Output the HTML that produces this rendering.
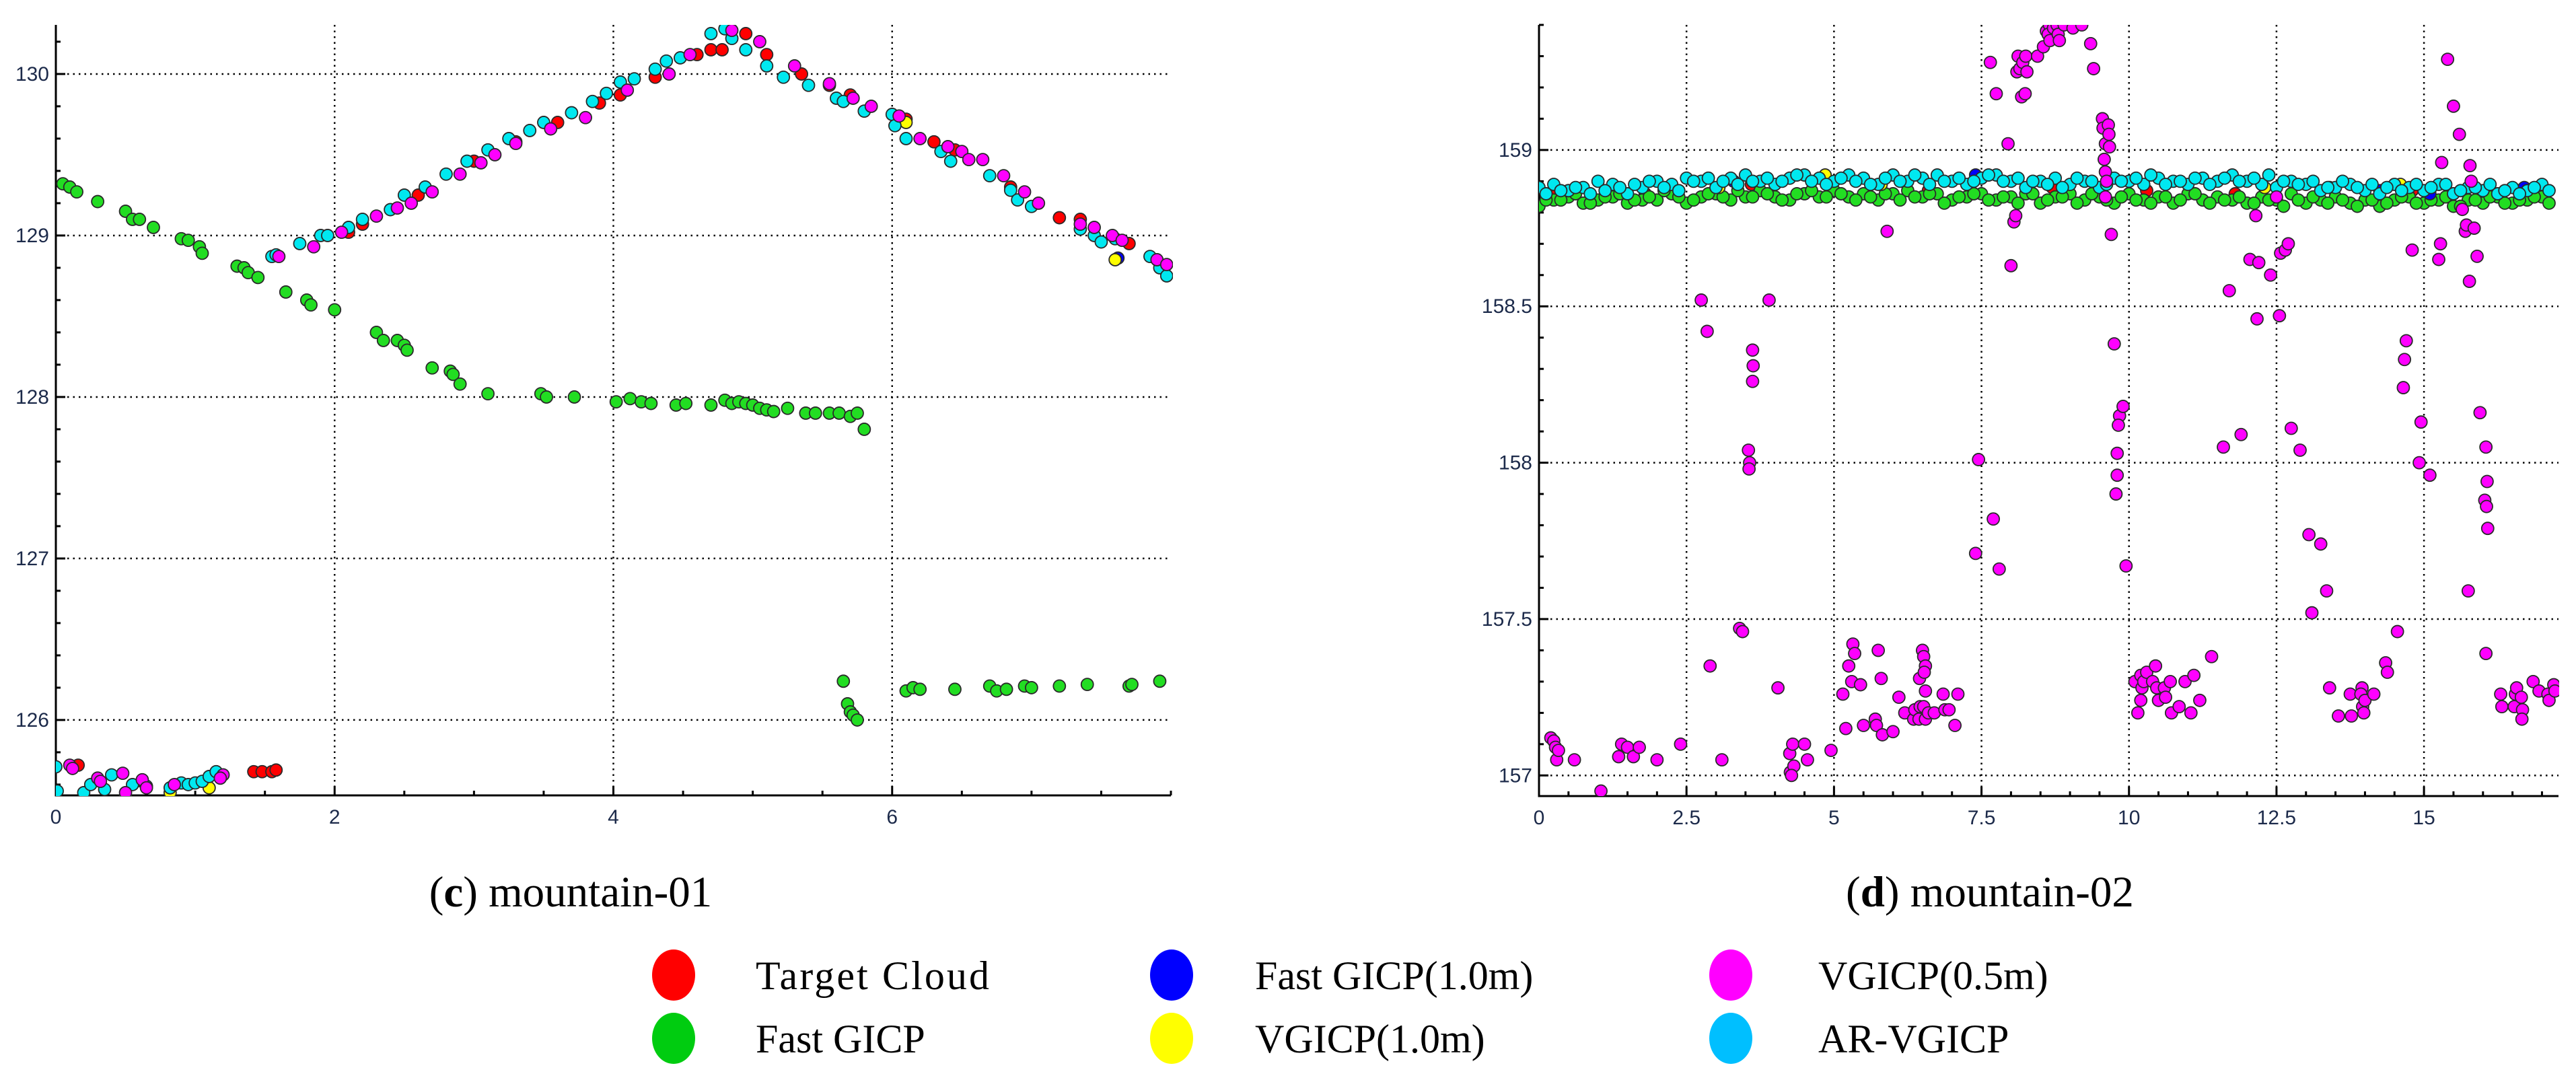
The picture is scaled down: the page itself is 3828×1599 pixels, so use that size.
<!DOCTYPE html>
<html><head><meta charset="utf-8"><style>
html,body{margin:0;padding:0;background:#fff;}
svg{display:block;}
.tick{font-family:"Liberation Sans",sans-serif;font-size:30px;fill:#1c2a4a;}
.cap{font-family:"Liberation Serif",serif;font-size:65px;fill:#000;}
.leg{font-family:"Liberation Serif",serif;font-size:60px;fill:#000;}
</style></head><body>
<svg id="fig" width="3828" height="1599" viewBox="0 0 3828 1599" xmlns="http://www.w3.org/2000/svg">
<g id="chartC"></g>
<g id="chartD"></g>
<text class="cap" x="848" y="1347" text-anchor="middle">(<tspan font-weight="bold">c</tspan>) mountain-01</text>
<text class="cap" x="2957" y="1347" text-anchor="middle">(<tspan font-weight="bold">d</tspan>) mountain-02</text>
<g id="legend">
 <g><ellipse cx="1001" cy="1449" rx="32" ry="38" fill="#ff0000"/><text class="leg" x="1123" y="1470" textLength="347">Target Cloud</text></g>
 <g><ellipse cx="1001" cy="1543" rx="32" ry="38" fill="#00cc10"/><text class="leg" x="1123" y="1564">Fast GICP</text></g>
 <g><ellipse cx="1741" cy="1449" rx="32" ry="38" fill="#0000ff"/><text class="leg" x="1865" y="1470">Fast GICP(1.0m)</text></g>
 <g><ellipse cx="1741" cy="1543" rx="32" ry="38" fill="#ffff00"/><text class="leg" x="1865" y="1564">VGICP(1.0m)</text></g>
 <g><ellipse cx="2572" cy="1449" rx="32" ry="38" fill="#ff00ff"/><text class="leg" x="2702" y="1470">VGICP(0.5m)</text></g>
 <g><ellipse cx="2572" cy="1543" rx="32" ry="38" fill="#00bfff"/><text class="leg" x="2702" y="1564">AR-VGICP</text></g>
</g>
</svg>
<script>
// ---------- chart (c) mountain-01 data ----------
const cXTicks = [0, 2, 4, 6];
const cYTicks = [126, 127, 128, 129, 130];
const cTarget = [[2.1,129.02],[2.2,129.07],[2.6,129.25],[3.0,129.46],[3.3,129.58],[3.6,129.7],[3.9,129.82],[4.05,129.87],[4.3,129.98],[4.6,130.12],[4.7,130.15],[4.78,130.15],[4.95,130.25],[5.1,130.12],[5.35,130.0],[5.55,129.93],[5.7,129.87],[6.1,129.72],[6.3,129.58],[6.45,129.53],[6.85,129.3],[7.2,129.11],[7.35,129.1],[7.7,128.95],[1.42,125.68],[1.48,125.68],[1.55,125.68],[1.58,125.69],[0.62,125.62],[0.16,125.72]];
const cFast = [[0.05,129.32],[0.1,129.3],[0.15,129.27],[0.3,129.21],[0.5,129.15],[0.55,129.1],[0.6,129.1],[0.7,129.05],[0.9,128.98],[0.95,128.97],[1.03,128.93],[1.05,128.89],[1.3,128.81],[1.35,128.8],[1.38,128.77],[1.45,128.74],[1.65,128.65],[1.8,128.6],[1.83,128.57],[2.0,128.54],[2.3,128.4],[2.35,128.35],[2.45,128.35],[2.5,128.32],[2.52,128.29],[2.7,128.18],[2.83,128.16],[2.85,128.14],[2.9,128.08],[3.1,128.02],[3.48,128.02],[3.52,128.0],[3.72,128.0],[4.02,127.97],[4.12,127.99],[4.2,127.97],[4.27,127.96],[4.45,127.95],[4.52,127.96],[4.7,127.95],[4.8,127.98],[4.85,127.96],[4.9,127.97],[4.95,127.96],[5.0,127.95],[5.05,127.93],[5.1,127.92],[5.15,127.91],[5.25,127.93],[5.38,127.9],[5.45,127.9],[5.55,127.9],[5.62,127.9],[5.7,127.88],[5.75,127.9],[5.8,127.8],[5.65,126.24],[5.68,126.1],[5.7,126.05],[5.72,126.03],[5.75,126.0],[6.1,126.18],[6.15,126.2],[6.2,126.19],[6.45,126.19],[6.7,126.21],[6.75,126.18],[6.82,126.19],[6.95,126.21],[7.0,126.2],[7.2,126.21],[7.4,126.22],[7.7,126.21],[7.72,126.22],[7.92,126.24]];
const cVg05 = [[1.6,128.87],[1.85,128.93],[2.05,129.02],[2.3,129.12],[2.45,129.17],[2.55,129.2],[2.7,129.27],[2.9,129.38],[3.05,129.45],[3.15,129.5],[3.3,129.57],[3.55,129.66],[3.8,129.73],[4.1,129.9],[4.4,130.0],[4.55,130.12],[4.85,130.27],[5.05,130.2],[5.3,130.05],[5.55,129.94],[5.72,129.85],[5.85,129.8],[6.05,129.74],[6.2,129.6],[6.4,129.55],[6.5,129.52],[6.55,129.47],[6.65,129.47],[6.8,129.37],[6.95,129.27],[7.05,129.2],[7.35,129.07],[7.45,129.05],[7.58,129.0],[7.65,128.97],[7.9,128.85],[7.97,128.82],[0.1,125.72],[0.12,125.7],[0.3,125.64],[0.32,125.62],[0.48,125.67],[0.5,125.55],[0.62,125.63],[0.65,125.58],[0.85,125.6],[1.2,125.66],[1.18,125.64]];
const cAr = [[1.55,128.87],[1.58,128.88],[1.75,128.95],[1.9,129.0],[1.95,129.0],[2.1,129.05],[2.2,129.1],[2.4,129.16],[2.5,129.25],[2.65,129.3],[2.8,129.38],[2.95,129.46],[3.1,129.53],[3.25,129.6],[3.4,129.65],[3.5,129.7],[3.7,129.76],[3.85,129.83],[3.95,129.88],[4.05,129.95],[4.15,129.97],[4.3,130.03],[4.38,130.08],[4.48,130.1],[4.7,130.25],[4.8,130.28],[4.85,130.22],[4.95,130.15],[5.1,130.05],[5.22,129.98],[5.4,129.93],[5.6,129.85],[5.65,129.83],[5.8,129.77],[6.0,129.75],[6.02,129.68],[6.1,129.6],[6.35,129.52],[6.42,129.46],[6.7,129.37],[6.85,129.28],[6.9,129.22],[7.0,129.18],[7.35,129.04],[7.45,129.0],[7.5,128.96],[7.6,128.98],[7.85,128.87],[7.92,128.8],[7.97,128.75],[0.0,125.71],[0.01,125.56],[0.2,125.55],[0.25,125.6],[0.35,125.57],[0.4,125.66],[0.5,125.53],[0.55,125.6],[0.65,125.59],[0.82,125.58],[0.9,125.61],[0.95,125.6],[1.0,125.61],[1.05,125.62],[1.1,125.65],[1.15,125.68]];
const cYellow = [[0.82,125.55],[1.1,125.58],[6.1,129.7],[7.6,128.85]];
const cBlue = [[7.62,128.86]];

// ---------- chart (d) mountain-02 data ----------
const dXTicks = [0, 2.5, 5, 7.5, 10, 12.5, 15];
const dXTickLabels = ["0", "2.5", "5", "7.5", "10", "12.5", "15"];
const dYTicks = [157, 157.5, 158, 158.5, 159];
const dYTickLabels = ["157", "157.5", "158", "158.5", "159"];
const dBandX = [0,0.25,0.5,0.75,1,1.25,1.5,1.75,2,2.25,2.5,2.75,3,3.25,3.5,3.75,4,4.25,4.5,4.75,5,5.25,5.5,5.75,6,6.25,6.5,6.75,7,7.25,7.5,7.75,8,8.25,8.5,8.75,9,9.25,9.5,9.75,10,10.25,10.5,10.75,11,11.25,11.5,11.75,12,12.25,12.5,12.75,13,13.25,13.5,13.75,14,14.25,14.5,14.75,15,15.25,15.5,15.75,16,16.25,16.5,16.75,17];
const dArY = [158.88,158.89,158.87,158.88,158.9,158.89,158.86,158.88,158.9,158.89,158.91,158.9,158.88,158.91,158.92,158.9,158.89,158.91,158.92,158.91,158.9,158.92,158.91,158.89,158.92,158.9,158.91,158.92,158.9,158.89,158.91,158.92,158.9,158.88,158.9,158.91,158.89,158.9,158.88,158.91,158.9,158.89,158.91,158.9,158.89,158.91,158.9,158.92,158.9,158.89,158.88,158.9,158.89,158.87,158.88,158.89,158.87,158.86,158.89,158.88,158.87,158.89,158.86,158.88,158.87,158.86,158.88,158.87,158.89];
const dArY2 = [158.86,158.87,158.88,158.86,158.87,158.88,158.89,158.9,158.88,158.87,158.9,158.91,158.9,158.89,158.9,158.91,158.9,158.92,158.9,158.89,158.91,158.9,158.89,158.91,158.9,158.92,158.89,158.9,158.91,158.9,158.92,158.9,158.91,158.9,158.89,158.88,158.91,158.9,158.89,158.9,158.91,158.92,158.89,158.9,158.91,158.89,158.91,158.9,158.91,158.92,158.9,158.89,158.9,158.88,158.9,158.88,158.89,158.88,158.87,158.89,158.88,158.89,158.87,158.88,158.89,158.87,158.86,158.88,158.87];
const dFastY = [158.82,158.84,158.85,158.83,158.84,158.85,158.83,158.84,158.84,158.86,158.83,158.85,158.86,158.84,158.85,158.87,158.85,158.84,158.86,158.85,158.87,158.85,158.86,158.84,158.86,158.87,158.85,158.86,158.84,158.85,158.86,158.84,158.85,158.86,158.83,158.85,158.86,158.84,158.85,158.83,158.86,158.84,158.85,158.83,158.86,158.84,158.85,158.84,158.83,158.85,158.84,158.86,158.83,158.84,158.85,158.83,158.84,158.82,158.84,158.85,158.83,158.84,158.82,158.84,158.83,158.85,158.83,158.84,158.85];
const dTarget = [[0.3,158.86],[1.8,158.86],[3.6,158.89],[6.6,158.87],[8.7,158.88],[10.3,158.87],[11.8,158.86],[13.4,158.88],[14.8,158.87],[16.6,158.87]];
const dYellow = [[0.5,158.87],[3.05,158.88],[4.85,158.92],[5.8,158.89],[7.5,158.91],[12.3,158.88],[14.6,158.89]];
const dBlue = [[3.3,158.9],[7.4,158.92],[14.25,158.87],[15.1,158.86],[16.7,158.88]];
const dVg05 = [[0.2,157.12],[0.25,157.11],[0.28,157.09],[0.3,157.05],[0.33,157.08],[0.6,157.05],[1.05,156.95],[1.35,157.06],[1.4,157.1],[1.5,157.09],[1.6,157.06],[1.7,157.09],[2.0,157.05],[2.4,157.1],[2.75,158.52],[2.85,158.42],[2.9,157.35],[3.1,157.05],[3.4,157.47],[3.45,157.46],[3.55,158.04],[3.57,158.0],[3.56,157.98],[3.62,158.36],[3.63,158.31],[3.62,158.26],[3.9,158.52],[4.05,157.28],[4.25,157.07],[4.26,157.01],[4.3,157.1],[4.32,157.03],[4.28,157.0],[4.5,157.1],[4.55,157.05],[4.95,157.08],[5.15,157.26],[5.2,157.15],[5.25,157.35],[5.3,157.3],[5.32,157.42],[5.35,157.39],[5.45,157.29],[5.5,157.16],[5.7,157.18],[5.72,157.16],[5.75,157.4],[5.8,157.31],[5.82,157.13],[5.9,158.74],[6.0,157.14],[6.1,157.25],[6.2,157.2],[6.35,157.18],[6.37,157.21],[6.45,157.31],[6.46,157.22],[6.44,157.18],[6.5,157.4],[6.52,157.38],[6.55,157.35],[6.53,157.33],[6.55,157.27],[6.52,157.22],[6.55,157.18],[6.6,157.2],[6.7,157.2],[6.85,157.26],[6.88,157.21],[6.95,157.21],[7.05,157.16],[7.1,157.26],[7.4,157.71],[7.45,158.01],[7.65,159.28],[7.7,157.82],[7.75,159.18],[7.8,157.66],[7.95,159.02],[8.0,158.63],[8.05,158.77],[8.08,158.79],[8.1,159.25],[8.12,159.3],[8.15,159.26],[8.2,159.28],[8.18,159.17],[8.25,159.3],[8.27,159.25],[8.24,159.18],[8.45,159.3],[8.55,159.33],[8.6,159.38],[8.65,159.4],[8.63,159.37],[8.66,159.35],[8.75,159.42],[8.72,159.39],[8.78,159.4],[8.8,159.37],[8.82,159.35],[8.9,159.4],[9.05,159.39],[9.2,159.4],[9.35,159.34],[9.4,159.26],[9.55,159.1],[9.56,159.07],[9.6,159.02],[9.58,158.97],[9.6,158.93],[9.62,158.9],[9.6,158.85],[9.65,159.08],[9.66,159.05],[9.67,159.01],[9.7,158.73],[9.75,158.38],[9.8,158.03],[9.8,157.96],[9.78,157.9],[9.84,158.15],[9.82,158.12],[9.9,158.18],[9.95,157.67],[10.1,157.3],[10.15,157.2],[10.2,157.32],[10.22,157.28],[10.2,157.24],[10.25,157.3],[10.3,157.33],[10.4,157.3],[10.45,157.35],[10.47,157.28],[10.5,157.24],[10.6,157.28],[10.62,157.25],[10.7,157.3],[10.72,157.2],[10.85,157.22],[10.95,157.3],[11.05,157.2],[11.1,157.32],[11.2,157.24],[11.4,157.38],[11.6,158.05],[11.7,158.55],[11.9,158.09],[12.05,158.65],[12.15,158.79],[12.17,158.46],[12.2,158.64],[12.4,158.6],[12.5,158.85],[12.55,158.47],[12.57,158.67],[12.65,158.68],[12.7,158.7],[12.75,158.11],[12.9,158.04],[13.05,157.77],[13.1,157.52],[13.25,157.74],[13.35,157.59],[13.4,157.28],[13.55,157.19],[13.75,157.26],[13.77,157.19],[13.95,157.28],[13.93,157.26],[13.96,157.22],[13.98,157.2],[14.0,157.24],[14.15,157.26],[14.35,157.36],[14.38,157.33],[14.55,157.46],[14.65,158.24],[14.67,158.33],[14.7,158.39],[14.8,158.68],[14.95,158.13],[14.92,158.0],[15.1,157.96],[15.25,158.65],[15.28,158.7],[15.3,158.96],[15.4,159.29],[15.5,159.14],[15.6,159.05],[15.65,158.81],[15.7,158.74],[15.72,158.76],[15.75,157.59],[15.77,158.58],[15.78,158.95],[15.8,158.9],[15.85,158.75],[15.9,158.66],[15.95,158.16],[16.05,158.05],[16.07,157.94],[16.03,157.88],[16.06,157.86],[16.08,157.79],[16.05,157.39],[16.3,157.26],[16.32,157.22],[16.55,157.26],[16.57,157.28],[16.53,157.22],[16.65,157.25],[16.67,157.21],[16.66,157.18],[16.85,157.3],[16.95,157.27],[17.1,157.26],[17.12,157.24],[17.2,157.29],[17.22,157.27]];

const NS = "http://www.w3.org/2000/svg";
function mk(tag, attrs, parent) {
  const e = document.createElementNS(NS, tag);
  for (const k in attrs) e.setAttribute(k, attrs[k]);
  parent.appendChild(e);
  return e;
}

function drawAxes(g, ax, xTicks, xLabels, yTicks, yLabels, xMinor, yMinor) {
  const sx = v => ax.left + (v - ax.xmin) / (ax.xmax - ax.xmin) * (ax.right - ax.left);
  const sy = v => ax.bottom - (v - ax.ymin) / (ax.ymax - ax.ymin) * (ax.bottom - ax.top);
  const grid = mk("g", {}, g);
  
  
  xTicks.forEach(t => { if (t > ax.xmin) mk("line", {x1: sx(t), x2: sx(t), y1: ax.top, y2: ax.bottom, stroke: "#000", "stroke-width": 2.5, "stroke-dasharray": "2.5 6"}, grid); });
  yTicks.forEach(t => mk("line", {x1: ax.left, x2: ax.right, y1: sy(t), y2: sy(t), stroke: "#000", "stroke-width": 2.5, "stroke-dasharray": "2.5 6"}, grid));
  const axes = mk("g", {}, g);
  
  
  mk("line", {x1: ax.left, x2: ax.left, y1: ax.top, y2: ax.bottom + 1.5, stroke: "#000", "stroke-width": 3}, axes);
  mk("line", {x1: ax.left, x2: ax.right, y1: ax.bottom, y2: ax.bottom, stroke: "#000", "stroke-width": 3}, axes);
  for (let v = ax.xmin; v <= ax.xmax + 1e-9; v += xMinor) {
    const major = xTicks.some(t => Math.abs(t - v) < 1e-6);
    mk("line", {x1: sx(v), x2: sx(v), y1: ax.bottom, y2: ax.bottom - (major ? 14 : 7), stroke: "#000", "stroke-width": 3}, axes);
  }
  for (let v = Math.ceil(ax.ymin / yMinor) * yMinor; v <= ax.ymax + 1e-9; v += yMinor) {
    const major = yTicks.some(t => Math.abs(t - v) < 1e-6);
    mk("line", {x1: ax.left, x2: ax.left + (major ? 14 : 7), y1: sy(v), y2: sy(v), stroke: "#000", "stroke-width": 3}, axes);
  }
  xTicks.forEach((t, i) => {
    const tx = mk("text", {x: sx(t), y: ax.bottom + 42, "text-anchor": "middle", class: "tick"}, axes);
    tx.textContent = xLabels[i];
    
    
  });
  yTicks.forEach((t, i) => {
    const tx = mk("text", {x: ax.left - 10, y: sy(t) + 10, "text-anchor": "end", class: "tick"}, axes);
    tx.textContent = yLabels[i];
    
    
  });
  return {sx, sy};
}

function drawSeries(g, s, pts, fill, name) {
  const sg = mk("g", {"clip-path": g.clip}, g.el);
  
  
  pts.forEach(p => {
    const c = mk("circle", {cx: s.sx(p[0]), cy: s.sy(p[1]), r: 9, fill: fill, stroke: "#2a2a2a", "stroke-width": 1.8}, sg);
    
    
  });
}

const svg = document.getElementById("fig");
const defs = mk("defs", {}, svg);
const cp1 = mk("clipPath", {id: "clipC"}, defs); mk("rect", {x: 83, y: 37, width: 1660, height: 1146}, cp1);
const cp2 = mk("clipPath", {id: "clipD"}, defs); mk("rect", {x: 2287, y: 37, width: 1516, height: 1146}, cp2);

// chart C
const gC = document.getElementById("chartC");
const axC = {left: 83, right: 1740, top: 37, bottom: 1182, xmin: 0, xmax: 8.0, ymin: 125.533, ymax: 130.304};
const sC = drawAxes(gC, axC, cXTicks, cXTicks.map(String), cYTicks, cYTicks.map(String), 0.5, 0.2);
const GC = {el: gC, clip: "url(#clipC)"};
drawSeries(GC, sC, cTarget, "#ff0000", "target-cloud-series");
drawSeries(GC, sC, cFast, "#22dd22", "fast-gicp-series");
drawSeries(GC, sC, cBlue, "#0000ff", "fast-gicp-1m-series");
drawSeries(GC, sC, cYellow, "#ffff00", "vgicp-1m-series");
drawSeries(GC, sC, cAr, "#00e8f0", "ar-vgicp-series");
drawSeries(GC, sC, cVg05, "#ff00ff", "vgicp-05m-series");

// chart D
const gD = document.getElementById("chartD");
const axD = {left: 2287, right: 3802, top: 37, bottom: 1183, xmin: 0, xmax: 17.28, ymin: 156.934, ymax: 159.4};
const sD = drawAxes(gD, axD, dXTicks, dXTickLabels, dYTicks, dYTickLabels, 0.5, 0.1);
const GD = {el: gD, clip: "url(#clipD)"};
drawSeries(GD, sD, dTarget, "#ff0000", "target-cloud-series");
drawSeries(GD, sD, dBandX.map((x, i) => [x, dFastY[i]]), "#22dd22", "fast-gicp-series");
drawSeries(GD, sD, dBandX.map((x, i) => [x + 0.12, dFastY[(i + 7) % dFastY.length]]), "#22dd22", "fast-gicp-series-b");
drawSeries(GD, sD, dBlue, "#0000ff", "fast-gicp-1m-series");
drawSeries(GD, sD, dYellow, "#ffff00", "vgicp-1m-series");
drawSeries(GD, sD, dBandX.map((x, i) => [x, dArY[i]]), "#00e8f0", "ar-vgicp-series");
drawSeries(GD, sD, dBandX.map((x, i) => [x + 0.12, dArY2[i]]), "#00e8f0", "ar-vgicp-series-b");
drawSeries(GD, sD, dVg05, "#ff00ff", "vgicp-05m-series");
</script>
</body></html>
